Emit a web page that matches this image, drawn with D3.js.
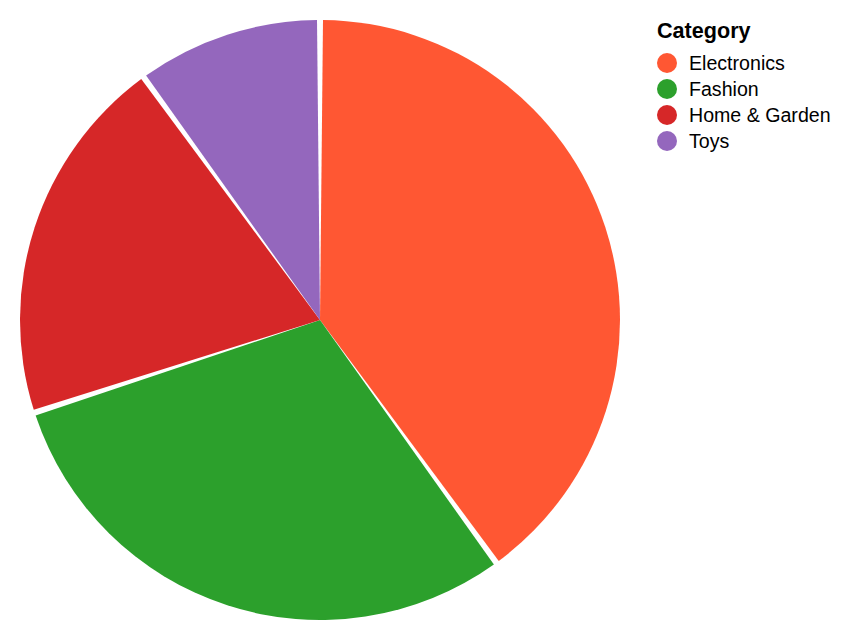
<!DOCTYPE html>
<html>
<head>
<meta charset="utf-8">
<script src="https://cdn.jsdelivr.net/npm/d3@7"></script>
<style>
  body { margin: 0; background: #fff; }
  svg { display: block; font-family: "Liberation Sans", Arial, Helvetica, sans-serif; }
</style>
</head>
<body>
<div id="chart"></div>
<script>
const categories = ["Electronics", "Fashion", "Home & Garden", "Toys"];
const shares = [40, 30, 20, 10];
const colors = ["#ff5733", "#2ca02c", "#d62728", "#9467bd"];

const width = 854, height = 640;
const cx = 320, cy = 320, radius = 300;

const svg = d3.select("#chart").append("svg")
  .attr("width", width)
  .attr("height", height);

const color = d3.scaleOrdinal().domain(categories).range(colors);

const pie = d3.pie().sort(null).value(d => d.value);
const arc = d3.arc().innerRadius(0).outerRadius(radius).padAngle(0.02);

const data = categories.map((c, i) => ({ name: c, value: shares[i] }));

svg.append("g")
  .attr("transform", `translate(${cx},${cy})`)
  .selectAll("path")
  .data(pie(data))
  .enter().append("path")
  .attr("d", arc)
  .attr("fill", d => color(d.data.name));

// legend
const legend = svg.append("g").attr("transform", "translate(657,0)");
legend.append("text")
  .attr("x", 0).attr("y", 38)
  .attr("font-size", 21.6)
  .attr("font-weight", "bold")
  .attr("fill", "#000")
  .text("Category");

const rows = legend.selectAll("g.row")
  .data(categories)
  .enter().append("g")
  .attr("class", "row")
  .attr("transform", (d, i) => `translate(0,${63 + i * 26})`);

rows.append("circle")
  .attr("cx", 10).attr("cy", 0).attr("r", 10)
  .attr("fill", d => color(d));

rows.append("text")
  .attr("x", 32).attr("y", 0)
  .attr("dy", "0.35em")
  .attr("font-size", 19.6)
  .attr("fill", "#000")
  .text(d => d);
</script>
</body>
</html>
